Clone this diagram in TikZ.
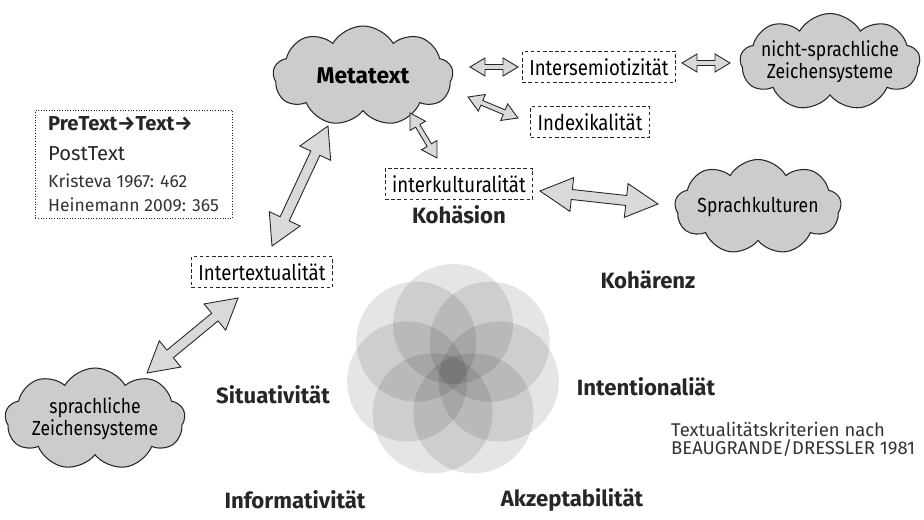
\documentclass[tikz,border=0pt]{standalone}
\usepackage{fontspec}
\setmainfont{Fira Sans}
\newfontfamily\condfont{Fira Sans}[FakeStretch=0.86]
\usetikzlibrary{calc,shapes.symbols}

% fat double arrow between two named points
\newcommand{\dblarrow}[5]{%
  \draw[fatarrow] ($(#1)!#5!(#2)!#3!90:(#2)$) -- ($(#1)!#5!(#2)!#4!90:(#2)$) -- (#1)
    -- ($(#1)!#5!(#2)!#4!-90:(#2)$) -- ($(#1)!#5!(#2)!#3!-90:(#2)$)
    -- ($(#2)!#5!(#1)!#3!90:(#1)$) -- ($(#2)!#5!(#1)!#4!90:(#1)$) -- (#2)
    -- ($(#2)!#5!(#1)!#4!-90:(#1)$) -- ($(#2)!#5!(#1)!#3!-90:(#1)$) -- cycle;}

\tikzset{
  cloudbox/.style={cloud, cloud puffs=9, cloud puff arc=120, cloud ignores aspect,
    draw=black!85, fill=black!20, line width=0.6pt, align=center, inner sep=0pt,
    font=\condfont\fontsize{11.6}{11.5}\selectfont},
  dashbox/.style={draw=black!85, dash pattern=on 2pt off 1.5pt, line width=0.5pt,
    minimum height=0.62cm, inner xsep=4pt, inner ysep=1pt, font=\condfont\fontsize{12.3}{13}\selectfont},
  crit/.style={font=\bfseries\fontsize{12.6}{14}\selectfont, text=black!85},
  petal/.style={fill=black, fill opacity=0.1},
  fatarrow/.style={draw=black!85, fill=black!15, line width=0.5pt, line join=miter},
}

\begin{document}
\begin{tikzpicture}[x=0.02cm, y=-0.02cm]
  \useasboundingbox (0,0) rectangle (924,520);

  % Wolken
  \node[cloudbox, minimum width=3.6cm, minimum height=2cm, font=\bfseries\fontsize{13}{14}\selectfont] (meta) at (363,76) {Metatext};
  \node[cloudbox, inner xsep=-16pt, inner ysep=-4pt, minimum width=3.6cm, minimum height=1.94cm] (nonverbal) at (830,62) {nicht-sprachliche\\Zeichensysteme};
  \node[cloudbox, minimum width=3.24cm, minimum height=1.9cm] (kulturen) at (758,207) {Sprachkulturen};
  \node[cloudbox, inner xsep=-14pt, inner ysep=-4pt, minimum width=3.6cm, minimum height=2.04cm] (verbal) at (95,419) {sprachliche\\Zeichensysteme};

  % gestrichelte Kaesten
  \node[dashbox] (semio) at (599,67) {Intersemiotizität};
  \node[dashbox] (index) at (590,122) {Indexikalität};
  \node[dashbox] (interk) at (459,184) {interkulturalität};
  \node[dashbox] (intertext) at (262,272) {Intertextualität};

  % Literaturkasten
  \node[draw=black!85, densely dotted, line width=0.5pt, minimum width=3.94cm, minimum height=2.16cm, anchor=north west] (lit) at (35,110) {};
  \node[anchor=base west, font=\bfseries\fontsize{11.5}{13}\selectfont, text=black!85] (pre) at (42,131) {PreText→Text→};
  \node[anchor=base west, font=\fontsize{11.5}{13}\selectfont, text=black!85] (post) at (42,161) {PostText};
  \node[anchor=base west, font=\fontsize{10}{12}\selectfont, text=black!80] (kris) at (42,188) {Kristeva 1967: 462};
  \node[anchor=base west, font=\fontsize{10}{12}\selectfont, text=black!80] (hein) at (42,212) {Heinemann 2009: 365};

  % Pfeile
  \coordinate (a1s) at (470,67);  \coordinate (a1e) at (518,67);
  \coordinate (a2s) at (682,63);  \coordinate (a2e) at (730,63);
  \coordinate (a3s) at (468,97);  \coordinate (a3e) at (518,118);
  \coordinate (a4s) at (410,113); \coordinate (a4e) at (437,158);
  \coordinate (a5s) at (540,191); \coordinate (a5e) at (658,204);
  \coordinate (a6s) at (272,246); \coordinate (a6e) at (328,126);
  \coordinate (a7s) at (147,373); \coordinate (a7e) at (238,298);
  \dblarrow{a1s}{a1e}{0.05cm}{0.18cm}{0.3cm}
  \dblarrow{a2s}{a2e}{0.05cm}{0.18cm}{0.3cm}
  \dblarrow{a3s}{a3e}{0.05cm}{0.18cm}{0.3cm}
  \dblarrow{a4s}{a4e}{0.05cm}{0.18cm}{0.3cm}
  \dblarrow{a5s}{a5e}{0.1cm}{0.34cm}{0.64cm}
  \dblarrow{a6s}{a6e}{0.1cm}{0.34cm}{0.6cm}
  \dblarrow{a7s}{a7e}{0.1cm}{0.34cm}{0.6cm}

  % Blume der sieben Kriterien
  \coordinate (flower) at (453,371);
  \foreach \k in {0,...,6}
    \fill[petal] ($(flower)+({270+\k*360/7}:47)$) circle (60);

  \node[crit] (kohaesion) at (459,215) {Kohäsion};
  \node[crit] (kohaerenz) at (648,280) {Kohärenz};
  \node[crit] (intention) at (646,387) {Intentionaliät};
  \node[crit] (akzept) at (572,500) {Akzeptabilität};
  \node[crit] (inform) at (295,500) {Informativität};
  \node[crit] (situ) at (273,395) {Situativität};

  \node[anchor=base west, align=left, font=\fontsize{10.5}{10.3}\selectfont, text=black!80] (quelle) at (665,455) {Textualitätskriterien nach\\BEAUGRANDE/DRESSLER 1981};
\end{tikzpicture}
\end{document}
